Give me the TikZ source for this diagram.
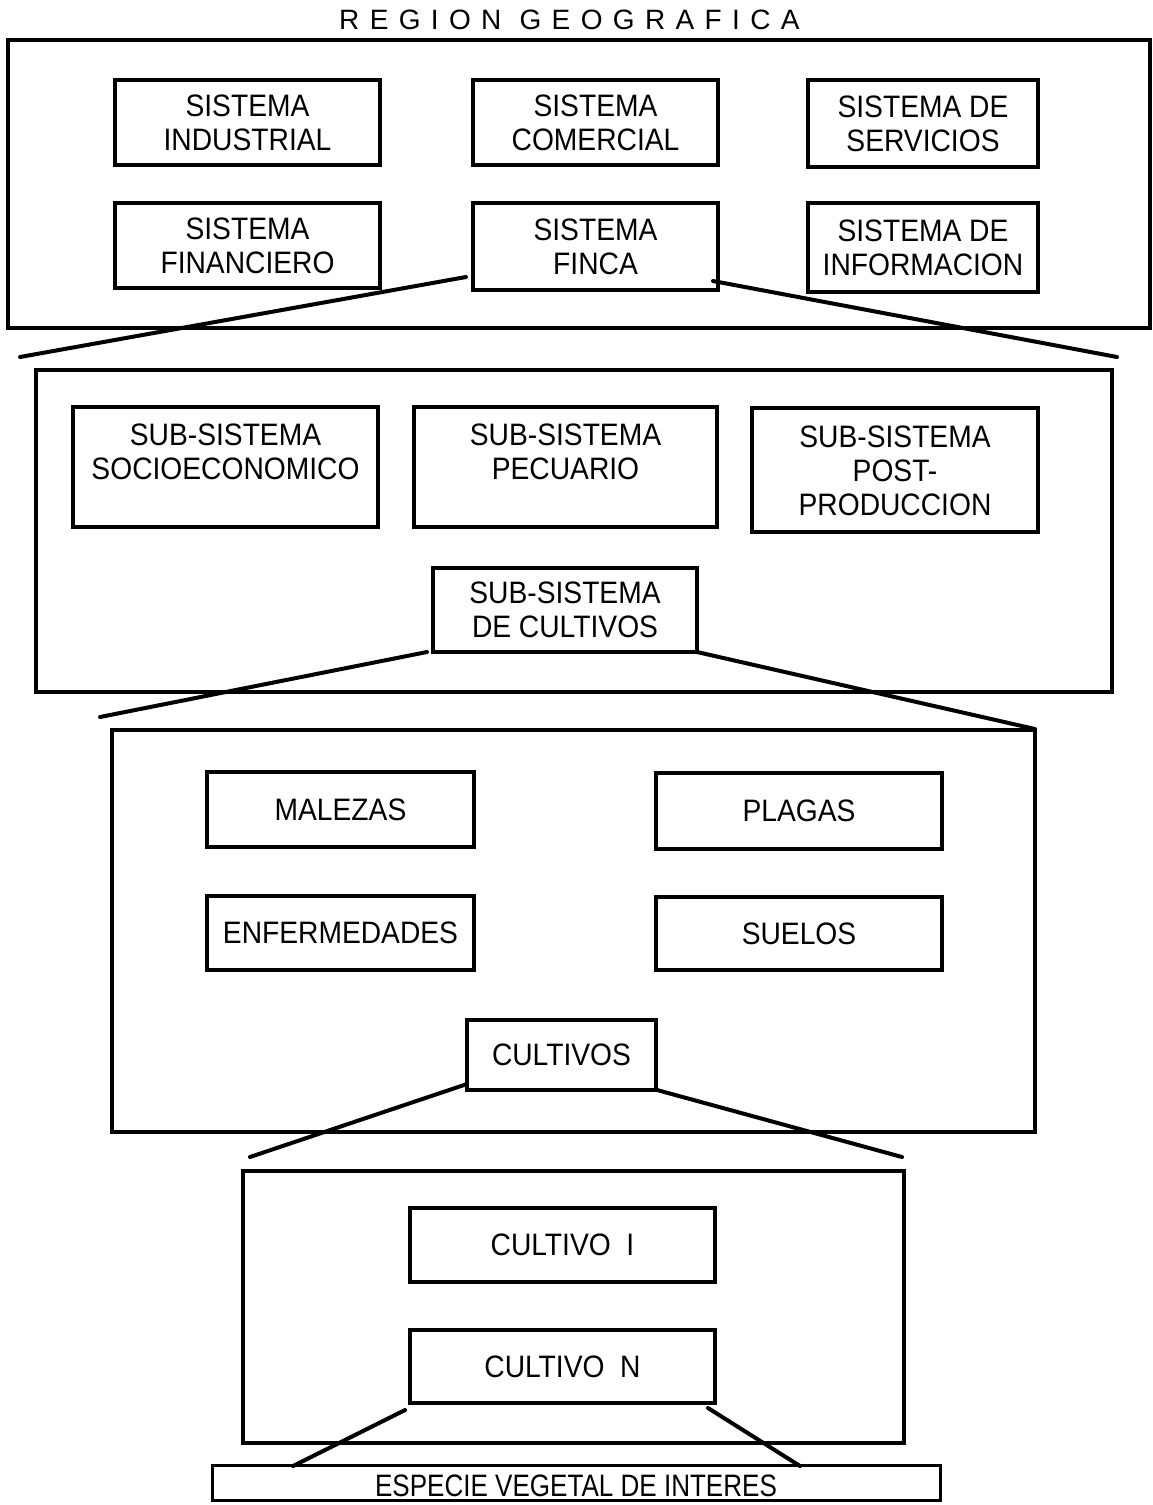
\documentclass[tikz,border=0pt]{standalone}
\usepackage{fontspec}
\setmainfont{Liberation Sans}
\usetikzlibrary{calc}
\begin{document}
\begin{tikzpicture}[x=1pt,y=-1pt,
  frame/.style={draw=black,line width=3.2pt},
  box/.style={draw=black,line width=3.8pt,inner sep=0pt},
  txt/.style={align=center,font=\fontsize{31}{34}\selectfont\addfontfeature{FakeStretch=0.91}},
  funnel/.style={draw=black,line width=4pt,line cap=round}]
\useasboundingbox (0,0) rectangle (1152,1505);

% title
\node[inner sep=0pt,anchor=west,font=\fontsize{28}{30}\selectfont\addfontfeature{LetterSpace=37}] (title) at (339,20) {REGION GEOGRAFICA};

% level 1: geographic region
\draw[frame] (8,40) rectangle (1150,328);
\node[box,minimum width=265,minimum height=85] (ind) at (247.5,122.5) {};
\node[txt] at (ind.center) {SISTEMA\\INDUSTRIAL};
\node[box,minimum width=245,minimum height=85] (com) at (595.5,122.5) {};
\node[txt] at (com.center) {SISTEMA\\COMERCIAL};
\node[box,minimum width=230,minimum height=87] (ser) at (923,123.5) {};
\node[txt] at (ser.center) {SISTEMA DE\\SERVICIOS};
\node[box,minimum width=265,minimum height=85] (fin) at (247.5,245.5) {};
\node[txt] at (fin.center) {SISTEMA\\FINANCIERO};
\node[box,minimum width=245,minimum height=87] (finca) at (595.5,246.5) {};
\node[txt] at (finca.center) {SISTEMA\\FINCA};
\node[box,minimum width=230,minimum height=89] (info) at (923,247.5) {};
\node[txt] at (info.center) {SISTEMA DE\\INFORMACION};

% level 2: farm system
\draw[frame] (36,370) rectangle (1112,692);
\node[box,minimum width=305,minimum height=120] (socio) at (225.5,467) {};
\node[txt] at ($(socio.center)+(0,-15)$) {SUB-SISTEMA\\SOCIOECONOMICO};
\node[box,minimum width=303,minimum height=120] (pecu) at (565.5,467) {};
\node[txt] at ($(pecu.center)+(0,-15)$) {SUB-SISTEMA\\PECUARIO};
\node[box,minimum width=286,minimum height=124] (post) at (895,470) {};
\node[txt] at ($(post.center)+(0,1)$) {SUB-SISTEMA\\POST-\\PRODUCCION};
\node[box,minimum width=264,minimum height=84] (subcult) at (565,610) {};
\node[txt] at (subcult.center) {SUB-SISTEMA\\DE CULTIVOS};

% level 3: crop sub-system
\draw[frame] (112,730) rectangle (1035,1132);
\node[box,minimum width=267,minimum height=75] (male) at (340.5,809.5) {};
\node[txt] at (male.center) {MALEZAS};
\node[box,minimum width=286,minimum height=76] (plag) at (799,811) {};
\node[txt] at (plag.center) {PLAGAS};
\node[box,minimum width=267,minimum height=74] (enf) at (340.5,933) {};
\node[txt] at (enf.center) {ENFERMEDADES};
\node[box,minimum width=286,minimum height=73] (suel) at (799,933.5) {};
\node[txt] at (suel.center) {SUELOS};
\node[box,minimum width=189,minimum height=70] (cultivos) at (561.5,1055) {};
\node[txt] at (cultivos.center) {CULTIVOS};

% level 4: crops
\draw[frame] (243,1171) rectangle (904,1443);
\node[box,minimum width=305,minimum height=74] (c1) at (562.5,1245) {};
\node[txt] at (c1.center) {CULTIVO\ \ I};
\node[box,minimum width=305,minimum height=73] (cn) at (562.5,1366.5) {};
\node[txt] at (cn.center) {CULTIVO\ \ N};

% species of interest
\node[box,line width=3pt,minimum width=728,minimum height=35] (esp) at (576,1482.5) {};
\node[font=\fontsize{31}{32}\selectfont\addfontfeature{FakeStretch=0.84}] at ($(esp.center)+(0,3)$) {ESPECIE VEGETAL DE INTERES};

% zoom-in funnels
\coordinate (f1a) at (466,277);  \coordinate (f1b) at (20,357);
\coordinate (f1c) at (713,281);  \coordinate (f1d) at (1117,357);
\draw[funnel] (f1a) -- (f1b);
\draw[funnel] (f1c) -- (f1d);
\coordinate (f2a) at (427,652);  \coordinate (f2b) at (100,717);
\coordinate (f2c) at (697,652);  \coordinate (f2d) at (1035,729);
\draw[funnel] (f2a) -- (f2b);
\draw[funnel] (f2c) -- (f2d);
\coordinate (f3a) at (467,1084); \coordinate (f3b) at (250,1157);
\coordinate (f3c) at (657,1090); \coordinate (f3d) at (902,1157);
\draw[funnel] (f3a) -- (f3b);
\draw[funnel] (f3c) -- (f3d);
\coordinate (f4a) at (405,1410); \coordinate (f4b) at (293,1466);
\coordinate (f4c) at (708,1408); \coordinate (f4d) at (800,1466);
\draw[funnel] (f4a) -- (f4b);
\draw[funnel] (f4c) -- (f4d);
\end{tikzpicture}
\end{document}
